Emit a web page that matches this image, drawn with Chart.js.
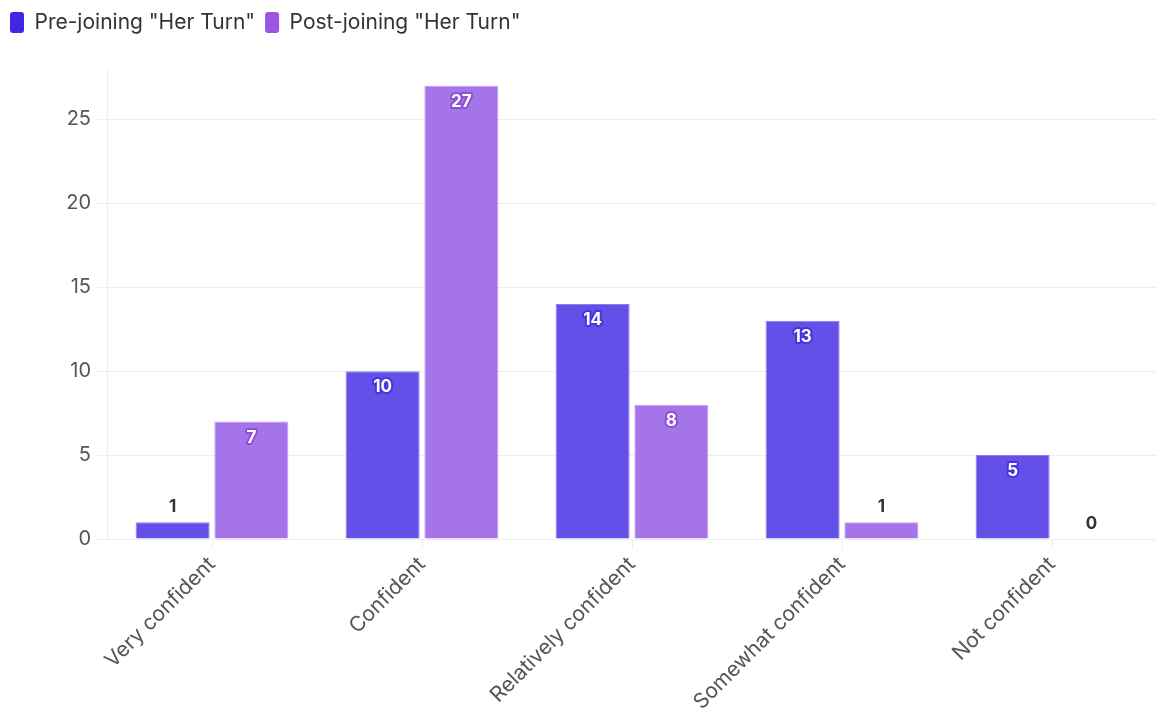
<!DOCTYPE html>
<html lang="en">
<head>
   <meta charset="UTF-8">
   <title>Her Turn confidence</title>
   <style>
      html, body { margin: 0; padding: 0; background: #fff; }
      .wrap { width: 1157px; height: 712px; }
   </style>
   <script src="https://cdn.jsdelivr.net/npm/chart.js@4/dist/chart.umd.min.js"></script>
</head>
<body>
   <div class="wrap"><canvas id="chart"></canvas></div>
   <script>
      const categories = ['Very confident', 'Confident', 'Relatively confident', 'Somewhat confident', 'Not confident'];
      const preValues = [1, 10, 14, 13, 5];
      const postValues = [7, 27, 8, 1, 0];
      const seriesNames = ['Pre-joining "Her Turn"', 'Post-joining "Her Turn"'];
      const yTicks = [0, 5, 10, 15, 20, 25];

      const FONT = 'Inter, "Noto Sans", sans-serif';

      // value labels: inside the bar top for tall bars, above for short ones
      const valueLabels = {
         id: 'valueLabels',
         afterDatasetsDraw(chart) {
            const ctx = chart.ctx;
            ctx.save();
            ctx.font = 'bold 17px ' + FONT;
            ctx.textAlign = 'center';
            ctx.textBaseline = 'middle';
            chart.data.datasets.forEach((ds, di) => {
               const meta = chart.getDatasetMeta(di);
               meta.data.forEach((bar, i) => {
                  const v = ds.data[i];
                  const txt = String(v);
                  if (v >= 3) {
                     const y = bar.y + 16;
                     ctx.lineJoin = 'round';
                     ctx.lineWidth = 4;
                     ctx.strokeStyle = ds.haloColor;
                     ctx.strokeText(txt, bar.x, y);
                     ctx.fillStyle = '#ffffff';
                     ctx.fillText(txt, bar.x, y);
                  } else {
                     ctx.fillStyle = '#333333';
                     ctx.fillText(txt, bar.x, bar.y - 15);
                  }
               });
            });
            ctx.restore();
         }
      };

      // a bit more room under the legend
      const legendGap = {
         id: 'legendGap',
         beforeInit(chart) {
            const fit = chart.legend.fit;
            chart.legend.fit = function () {
               fit.bind(chart.legend)();
               this.height += 26;
            };
         }
      };

      new Chart(document.getElementById('chart'), {
         type: 'bar',
         data: {
            labels: categories,
            datasets: [
               {
                  label: seriesNames[0],
                  data: preValues,
                  backgroundColor: '#6450e9',
                  borderColor: '#8a7cf0',
                  borderWidth: 1,
                  legendColor: '#3f27e3',
                  haloColor: '#4a33dd',
                  categoryPercentage: 0.75,
                  barPercentage: 0.94
               },
               {
                  label: seriesNames[1],
                  data: postValues,
                  backgroundColor: '#a674e9',
                  borderColor: '#c09cf0',
                  borderWidth: 1,
                  legendColor: '#9a55e3',
                  haloColor: '#8d4fd6',
                  categoryPercentage: 0.75,
                  barPercentage: 0.94
               }
            ]
         },
         options: {
            responsive: true,
            maintainAspectRatio: false,
            animation: false,
            layout: { padding: { left: 0, right: 0, top: 2, bottom: 0 } },
            plugins: {
               tooltip: { enabled: false },
               legend: {
                  position: 'top',
                  align: 'start',
                  labels: {
                     font: { family: FONT, size: 21 },
                     color: '#333',
                     boxWidth: 14,
                     boxHeight: 21,
                     padding: 10,
                     useBorderRadius: true,
                     borderRadius: 3,
                     generateLabels(chart) {
                        return chart.data.datasets.map((ds, i) => ({
                           text: ds.label,
                           fillStyle: ds.legendColor,
                           strokeStyle: ds.legendColor,
                           lineWidth: 0,
                           borderRadius: 3,
                           datasetIndex: i,
                           fontColor: '#333'
                        }));
                     }
                  }
               }
            },
            scales: {
               x: {
                  afterFit(axis) {
                     axis.height = 173;
                  },
                  grid: {
                     offset: false,
                     drawOnChartArea: false,
                     drawTicks: true,
                     tickLength: 10,
                     color: '#eeeeee'
                  },
                  border: { color: '#eeeeee' },
                  ticks: {
                     maxRotation: 45,
                     minRotation: 45,
                     font: { family: FONT, size: 21 },
                     color: '#555'
                  }
               },
               y: {
                  min: 0,
                  max: 28,
                  afterBuildTicks(axis) {
                     axis.ticks = yTicks.map(v => ({ value: v }));
                  },
                  afterFit(axis) {
                     axis.width = 107;
                  },
                  grid: { color: '#eeeeee', tickLength: 10 },
                  border: { color: '#eeeeee' },
                  ticks: {
                     font: { family: FONT, size: 20 },
                     color: '#555',
                     padding: 6
                  }
               }
            }
         },
         plugins: [valueLabels, legendGap]
      });
   </script>
</body>
</html>
